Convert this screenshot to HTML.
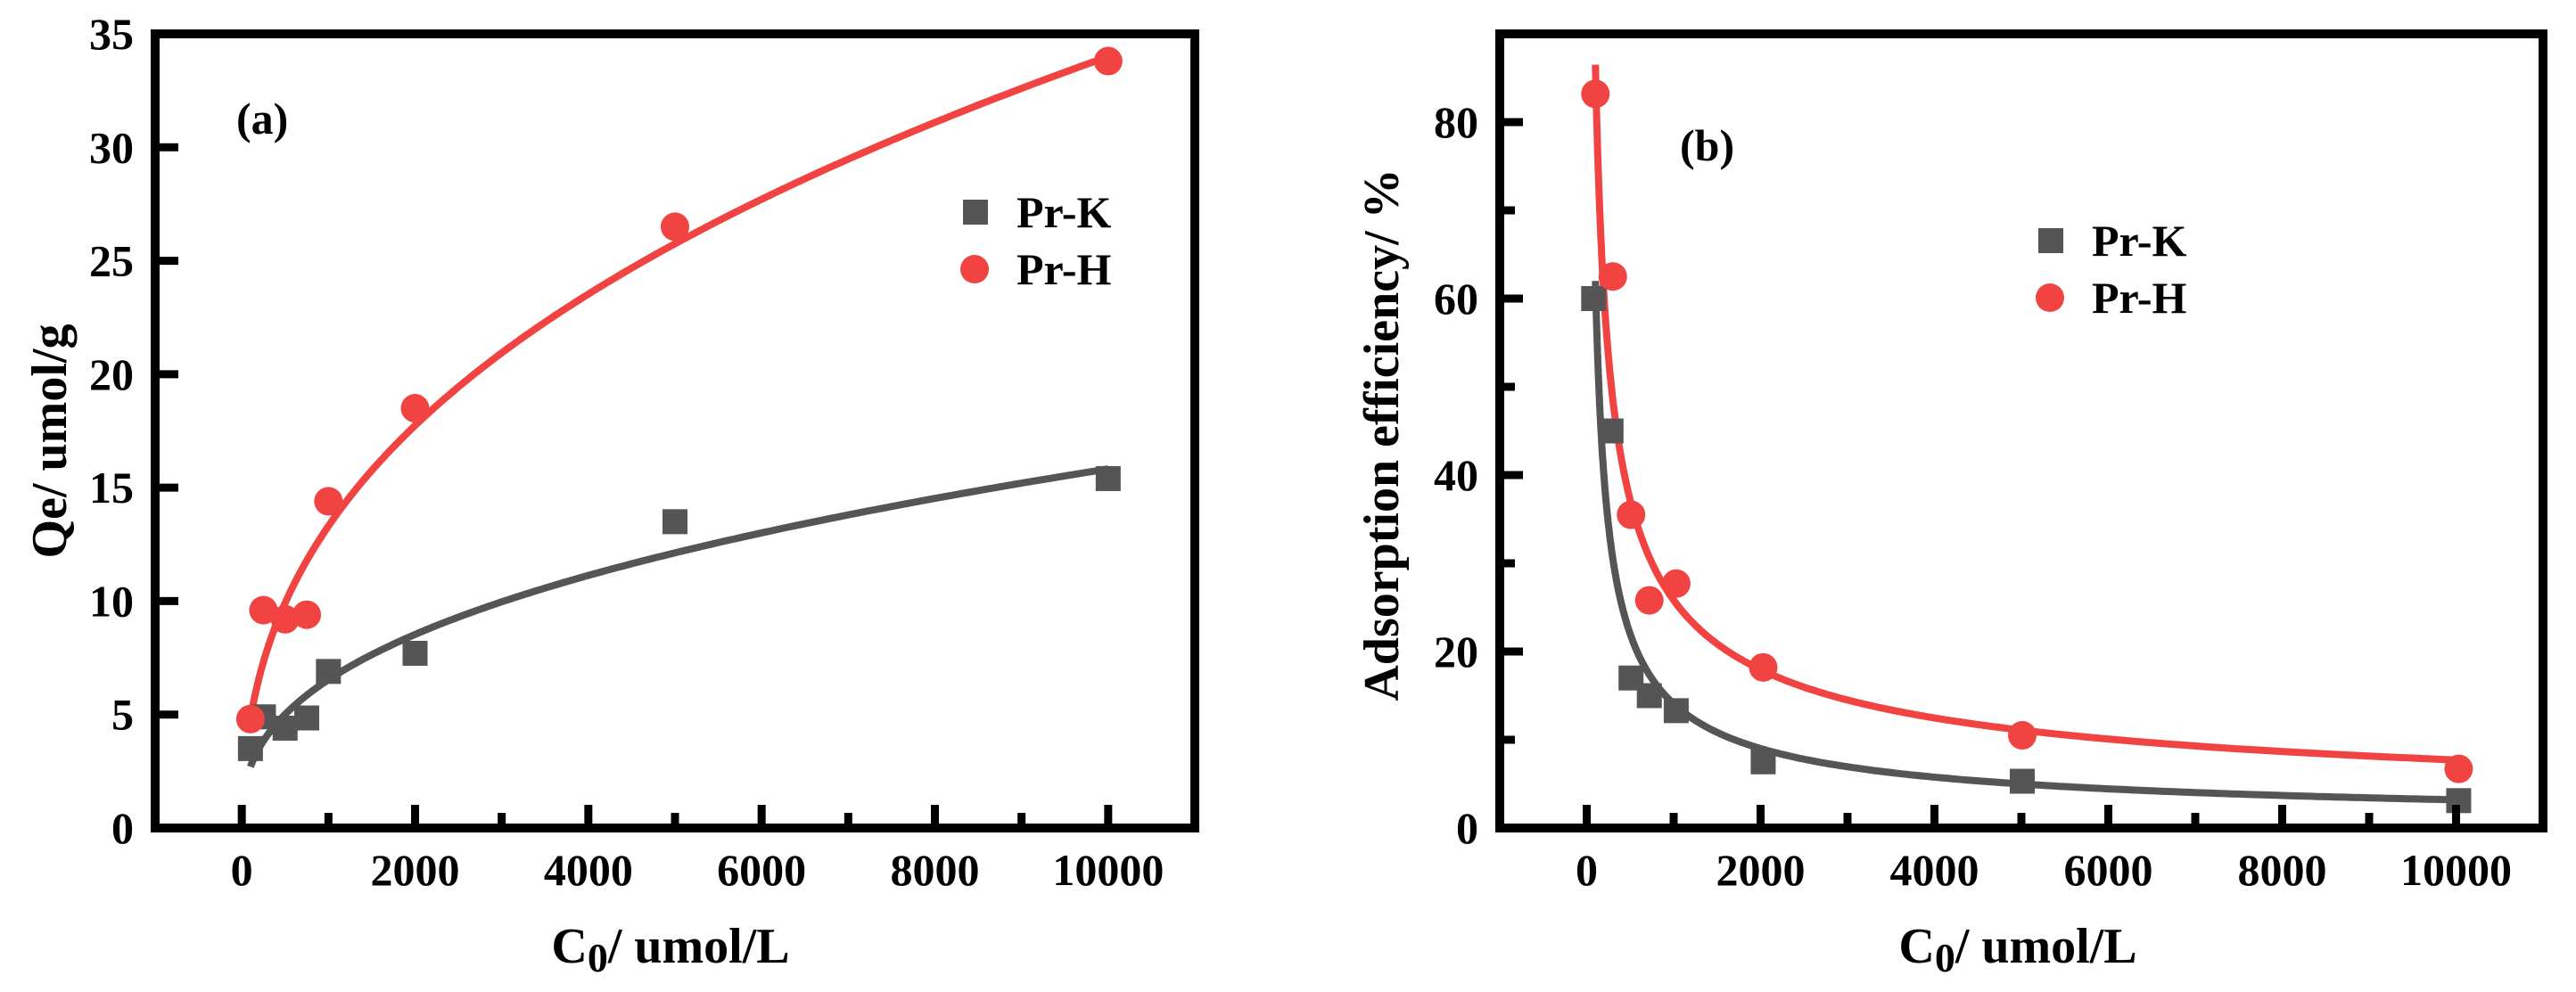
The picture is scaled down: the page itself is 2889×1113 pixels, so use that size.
<!DOCTYPE html>
<html><head><meta charset="utf-8"><style>
html,body{margin:0;padding:0;background:#fff}
svg text{font-family:"Liberation Serif",serif;font-weight:bold;fill:#000}
</style></head><body>
<svg id="fig" width="2889" height="1108" viewBox="0 0 2889 1108" xmlns="http://www.w3.org/2000/svg"></svg>
<script>
// Panel (a) data
const aX = [100, 250, 500, 750, 1000, 2000, 5000, 10000];
const aK = [3.5, 4.9, 4.4, 4.85, 6.9, 7.7, 13.5, 15.4];
const aH = [4.8, 9.6, 9.2, 9.4, 14.4, 18.5, 26.5, 33.8];
const aFitK = [2.7, 0.384, 0];   // y = a*(x/100)^n + c
const aFitH = [5.94, 0.386, -1.14];
const aYTicks = ["0","5","10","15","20","25","30","35"];
// Panel (b) data
const bXK = [80, 280, 510, 720, 1030, 2030, 5010, 10030];
const bK = [60, 45, 17, 15, 13.3, 7.5, 5.3, 3.1];
const bXH = [100, 300, 510, 720, 1030, 2030, 5010, 10030];
const bH = [83.2, 62.5, 35.5, 25.8, 27.7, 18.2, 10.5, 6.7];
const bFitK = [62, -0.644, 0];
const bFitH = [86.5, -0.525, 0];
const bYTicks = ["0","20","40","60","80"];
const xTicks = ["0","2000","4000","6000","8000","10000"];

const NS = "http://www.w3.org/2000/svg";
const svg = document.getElementById('fig');
function mk(tag, attrs, parent){const e=document.createElementNS(NS,tag);for(const k in attrs)e.setAttribute(k,attrs[k]);(parent||svg).appendChild(e);return e;}

function panel(o){
  const g = mk('g',{});
  
  
  const sx = v => o.L + (v - o.x0)/(o.x1 - o.x0)*(o.R - o.L);
  const sy = v => o.B - (v - o.y0)/(o.y1 - o.y0)*(o.B - o.T);
  function fit(p, col, nm){
    let d='';
    for(let i=0;i<=400;i++){const x=100*Math.pow(100, i/400);const y=p[0]*Math.pow(x/100,p[1])+p[2];d+=(i?'L':'M')+sx(x).toFixed(1)+' '+sy(y).toFixed(1);}
    const e=mk('path',{d:d,fill:'none',stroke:col,'stroke-width':8},g);
    
    
  }
  fit(o.fitK,'#555555',o.name+'-fit-pr-k');
  fit(o.fitH,'#f24343',o.name+'-fit-pr-h');
  o.xk.forEach((x,i)=>{const e=mk('rect',{x:sx(x)-14,y:sy(o.k[i])-14,width:28,height:28,fill:'#555555'},g);
    
    });
  o.xh.forEach((x,i)=>{const e=mk('circle',{cx:sx(x),cy:sy(o.h[i]),r:16,fill:'#f24343'},g);
    
    });
  const fr=mk('rect',{x:o.L,y:o.T,width:o.R-o.L,height:o.B-o.T,fill:'none',stroke:'#000','stroke-width':10},g);
  
  
  for(let v=0; v<=10000; v+=1000){
    const major = v%2000===0;
    mk('line',{x1:sx(v),x2:sx(v),y1:o.B,y2:o.B-(major?26:17),stroke:'#000','stroke-width':9},g);
  }
  xTicks.forEach(t=>{const e=mk('text',{x:sx(+t),y:993,'font-size':50,'text-anchor':'middle'},g);e.textContent=t;
    
    });
  for(let v=o.y0; v<=o.y1+1e-9; v+=o.minor){
    const major = Math.abs(v/o.major - Math.round(v/o.major))<1e-6;
    if(v===o.y0) continue;
    mk('line',{x1:o.L,x2:o.L+(major?26:17),y1:sy(v),y2:sy(v),stroke:'#000','stroke-width':9},g);
  }
  o.yt.forEach(t=>{const e=mk('text',{x:o.L-24,y:sy(+t)+17,'font-size':50,'text-anchor':'end'},g);e.textContent=t;
    
    });
  let e=mk('text',{x:o.lab[0],y:o.lab[1],'font-size':50},g);e.textContent=o.labText;
  
  
  e=mk('text',{x:o.xt,y:1080,'font-size':56,'text-anchor':'middle'},g);
  e.innerHTML='C<tspan dy="10" font-size="46">0</tspan><tspan dy="-10">/ umol/L</tspan>';
  
  
  e=mk('text',{x:0,y:0,'font-size':56,'text-anchor':'middle',transform:`translate(${o.yTitle[0]},${o.yTitle[1]}) rotate(-90)`},g);
  e.textContent=o.yTitleText;
  
  
  const lg=mk('g',{},g);
  
  
  const [lx,ly]=o.leg;
  mk('rect',{x:lx-14,y:ly-14,width:28,height:28,fill:'#555555'},lg);
  e=mk('text',{x:lx+46,y:ly+17,'font-size':50},lg);e.textContent='Pr-K';
  
  
  mk('circle',{cx:lx-1,cy:ly+64,r:16,fill:'#f24343'},lg);
  e=mk('text',{x:lx+46,y:ly+81,'font-size':50},lg);e.textContent='Pr-H';
  
  
}
panel({name:'panel-a',L:174,R:1340,T:38,B:929,x0:-1000,x1:11000,y0:0,y1:35,major:5,minor:5,
  xk:aX,k:aK,xh:aX,h:aH,fitK:aFitK,fitH:aFitH,yt:aYTicks,lab:[265,150],labText:'(a)',
  xt:752,yTitle:[74,495],yTitleText:'Qe/ umol/g',leg:[1094,238]});
panel({name:'panel-b',L:1682,R:2852,T:38,B:929,x0:-1000,x1:11000,y0:0,y1:90,major:20,minor:10,
  xk:bXK,k:bK,xh:bXH,h:bH,fitK:bFitK,fitH:bFitH,yt:bYTicks,lab:[1884,180],labText:'(b)',
  xt:2263,yTitle:[1568,488],yTitleText:'Adsorption efficiency/ %',leg:[2300,270]});
</script>
</body></html>
